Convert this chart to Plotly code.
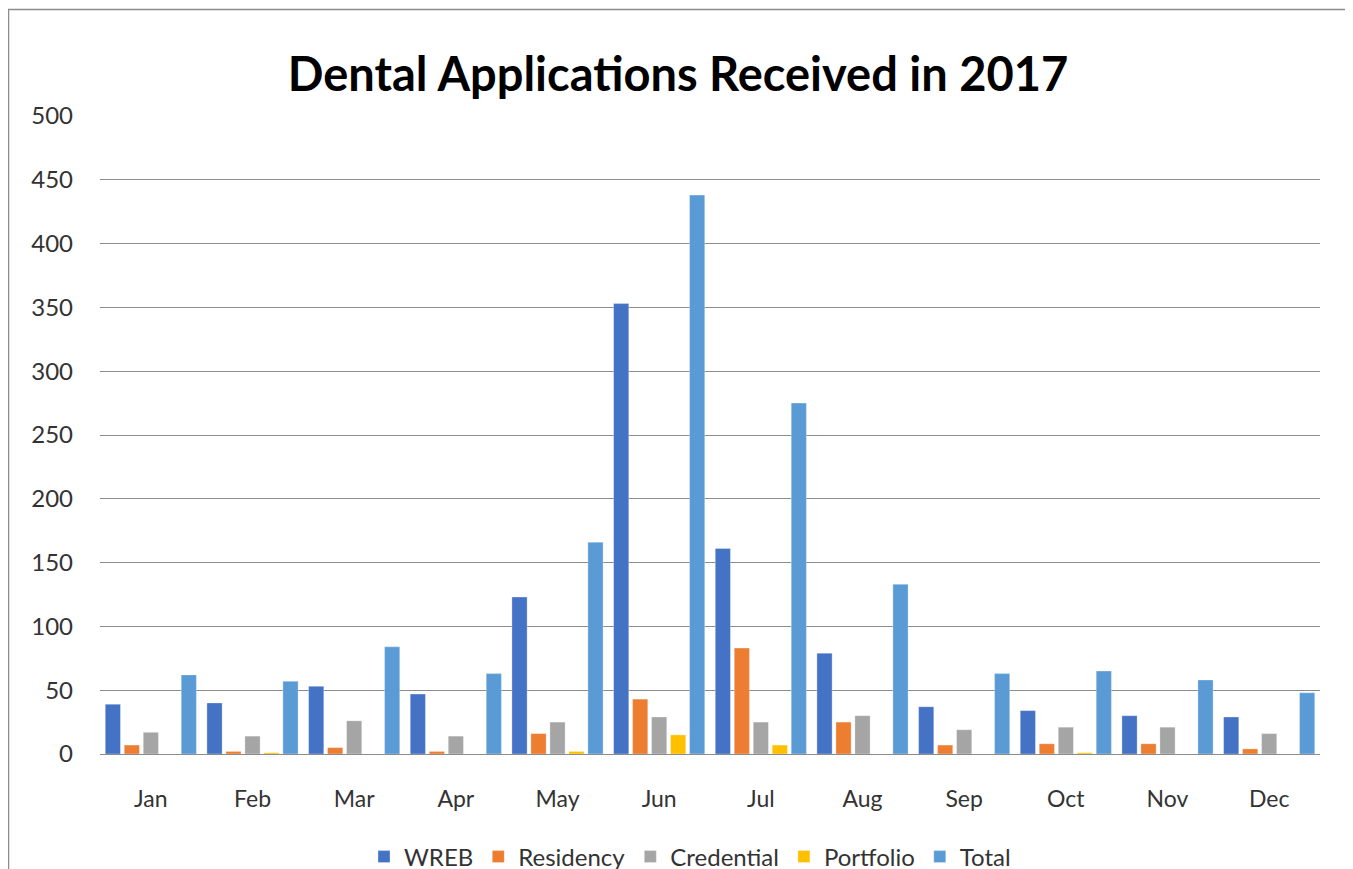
import plotly.graph_objects as go

months = ["Jan", "Feb", "Mar", "Apr", "May", "Jun", "Jul", "Aug", "Sep", "Oct", "Nov", "Dec"]
wreb = [39, 40, 53, 47, 123, 353, 161, 79, 37, 34, 30, 29]
residency = [7, 2, 5, 2, 16, 43, 83, 25, 7, 8, 8, 4]
credential = [17, 14, 26, 14, 25, 29, 25, 30, 19, 21, 21, 16]
portfolio = [0, 1, 0, 0, 2, 15, 7, 0, 0, 1, 0, 0]
total = [62, 57, 84, 63, 166, 438, 275, 133, 63, 65, 58, 48]
y_ticks = [0, 50, 100, 150, 200, 250, 300, 350, 400, 450, 500]

series = [
    ("WREB", wreb, "#4472C4"),
    ("Residency", residency, "#ED7D31"),
    ("Credential", credential, "#A5A5A5"),
    ("Portfolio", portfolio, "#FFC000"),
    ("Total", total, "#5B9BD5"),
]

fig = go.Figure()
for name, vals, color in series:
    fig.add_trace(go.Bar(
        x=months, y=vals, name=name,
        marker=dict(color=color, line=dict(color="rgba(255,255,255,0.6)", width=0.5)),
    ))

# page body has an 8px offset; figure coords = screen coords - 8
OFF = 8
W, H = 1353, 869
L, R, T, B = 100 - OFF, 33 + OFF, 116 - OFF, 115 + OFF
pw, ph = W - L - R, H - T - B

def px_x(p):  # screen px -> paper
    return (p - OFF - L) / pw

def px_y(p):
    return (H - B - (p - OFF)) / ph

fig.update_layout(
    width=W, height=H,
    margin=dict(l=L, r=R, t=T, b=B, autoexpand=False),
    paper_bgcolor="white", plot_bgcolor="white",
    font=dict(family="Lato, sans-serif", size=23, color="#333333"),
    title=dict(
        text="<b>Dental Applications Received in 2017</b>",
        x=px_x(678), xanchor="center", xref="paper",
        y=1 - (75 - OFF) / H, yanchor="middle",
        font=dict(family="Lato, sans-serif", size=47, color="#000000"),
    ),
    barmode="group", bargap=0.066, bargroupgap=0.2,
    xaxis=dict(
        showgrid=False, showline=True, linecolor="#8c8c8c", linewidth=1,
        ticks="", tickfont=dict(size=23, color="#333333"),
        ticklabelstandoff=24,
    ),
    yaxis=dict(
        range=[0, 500], tickvals=y_ticks, showgrid=True, gridcolor="#8c8c8c",
        gridwidth=1, zeroline=True, zerolinecolor="#8c8c8c", zerolinewidth=1,
        showline=False, ticks="", tickfont=dict(size=24, color="#333333"),
        ticklabelstandoff=26,
    ),
    legend=dict(
        orientation="h", x=px_x(690), xanchor="center", y=px_y(857), yanchor="middle",
        font=dict(size=24, color="#333333"), itemwidth=30,
        bgcolor="rgba(0,0,0,0)",
    ),
    showlegend=True,
    shapes=[dict(
        type="rect", xref="paper", yref="paper",
        x0=px_x(8.5), x1=px_x(1349), y0=px_y(900), y1=px_y(9.5),
        line=dict(color="#8c8c8c", width=1.5), fillcolor="rgba(0,0,0,0)",
        layer="below",
    )],
)

fig.write_html("out.html")
